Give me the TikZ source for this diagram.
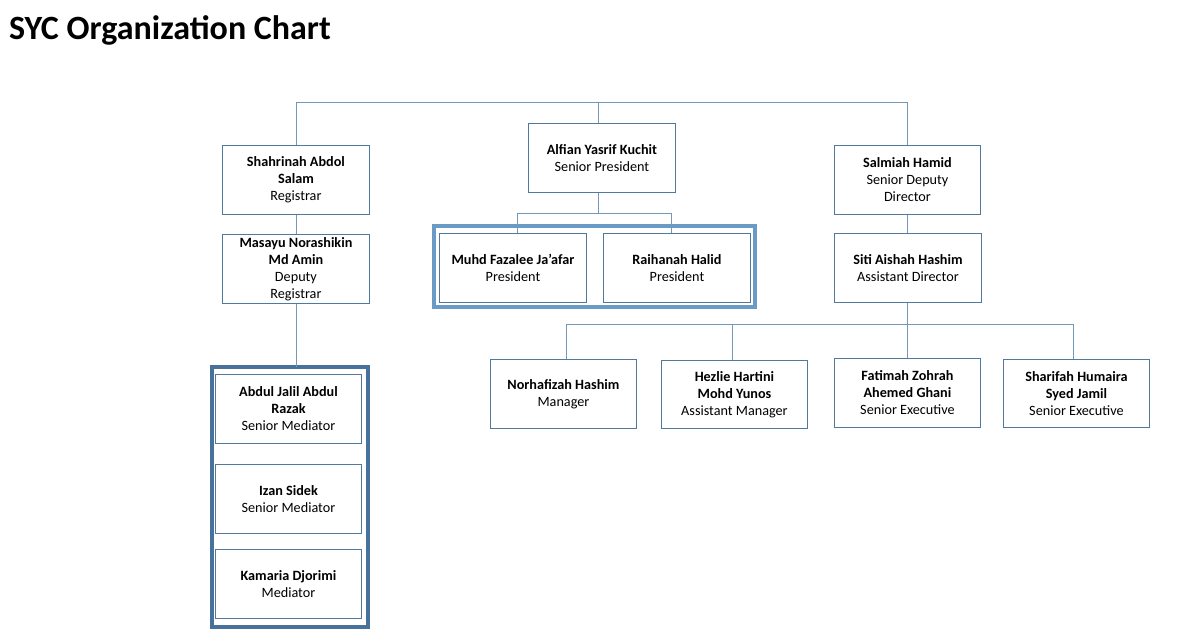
\documentclass[tikz,border=0pt]{standalone}
\usepackage{fontspec}
\setmainfont{Carlito}
\definecolor{boxc}{HTML}{52789C}
\definecolor{linec}{HTML}{7498B8}
\definecolor{frameA}{HTML}{46729B}
\definecolor{frameB}{HTML}{6A9AC6}
\tikzset{
  person/.style={draw=boxc, line width=0.9pt, fill=white, align=center, inner sep=0pt,
    font=\fontsize{14.2}{17}\selectfont, minimum width=147pt, minimum height=69pt, anchor=north west},
  conn/.style={draw=linec, line width=1pt},
}
\newcommand{\nm}[1]{\textbf{#1}}
\begin{document}
\begin{tikzpicture}[x=1pt,y=-1pt]
\useasboundingbox (0,0) rectangle (1192,634);
\fill[white] (0,0) rectangle (1192,634);
\node[anchor=base west, inner sep=0pt, font=\fontsize{34}{38}\selectfont\bfseries] (title) at (9,40) {SYC Organization Chart};

% group frames
\draw[frameA, line width=3.5pt] (212,367) rectangle (368,627);
\coordinate (fA) at (296,367);
\draw[frameB, line width=4pt] (434,226) rectangle (755,307);

% boxes
\node[person] (shah) at (222,145) {\nm{Shahrinah Abdol}\\\nm{Salam}\\Registrar};
\node[person] (masa) at (222,234) {\nm{Masayu Norashikin}\\\nm{Md Amin}\\Deputy\\Registrar};
\node[person, minimum width=146pt] (abdul) at (215,374) {\nm{Abdul Jalil Abdul}\\\nm{Razak}\\Senior Mediator};
\node[person, minimum width=146pt] (izan) at (215,464) {\nm{Izan Sidek}\\Senior Mediator};
\node[person, minimum width=146pt] (kama) at (215,549) {\nm{Kamaria Djorimi}\\Mediator};

\node[person] (alf) at (528,123) {\nm{Alfian Yasrif Kuchit}\\Senior President};
\node[person] (muhd) at (439,233) {\nm{Muhd Fazalee Ja’afar}\\President};
\node[person] (raih) at (603,233) {\nm{Raihanah Halid}\\President};

\node[person, minimum width=146pt] (salm) at (834,145) {\nm{Salmiah Hamid}\\Senior Deputy\\Director};
\node[person] (siti) at (834,233) {\nm{Siti Aishah Hashim}\\Assistant Director};

\node[person, minimum width=146pt] (norh) at (490,359) {\nm{Norhafizah Hashim}\\Manager};
\node[person, minimum width=146pt, minimum height=68pt] (hezl) at (661,360) {\nm{Hezlie Hartini}\\\nm{Mohd Yunos}\\Assistant Manager};
\node[person, minimum width=146pt] (fati) at (834,358) {\nm{Fatimah Zohrah}\\\nm{Ahemed Ghani}\\Senior Executive};
\node[person, minimum width=146pt, minimum height=68pt] (shar) at (1003,359) {\nm{Sharifah Humaira}\\\nm{Syed Jamil}\\Senior Executive};

% top connectors
\coordinate (tl) at (296,102);
\coordinate (tr) at (907,102);
\coordinate (tm) at (598,102);
\draw[conn] (tl |- shah.north) -- (tl) -- (tr) -- (tr |- salm.north);
\draw[conn] (tm) -- (tm |- alf.north);

% left chain
\draw[conn] (tl |- shah.south) -- (tl |- masa.north);
\draw[conn] (tl |- masa.south) -- (fA);

% middle
\coordinate (mj) at (598,213);
\coordinate (ml) at (517,213);
\coordinate (mr) at (671,213);
\draw[conn] (mj |- alf.south) -- (mj);
\draw[conn] (ml |- muhd.north) -- (ml) -- (mr) -- (mr |- raih.north);

% right
\draw[conn] (tr |- salm.south) -- (tr |- siti.north);
\coordinate (rj) at (907,324);
\coordinate (r1) at (566,324);
\coordinate (r2) at (732,324);
\coordinate (r4) at (1073,324);
\draw[conn] (rj |- siti.south) -- (rj);
\draw[conn] (r1 |- norh.north) -- (r1) -- (r4) -- (r4 |- shar.north);
\draw[conn] (r2) -- (r2 |- hezl.north);
\draw[conn] (rj) -- (rj |- fati.north);
\end{tikzpicture}
\end{document}
